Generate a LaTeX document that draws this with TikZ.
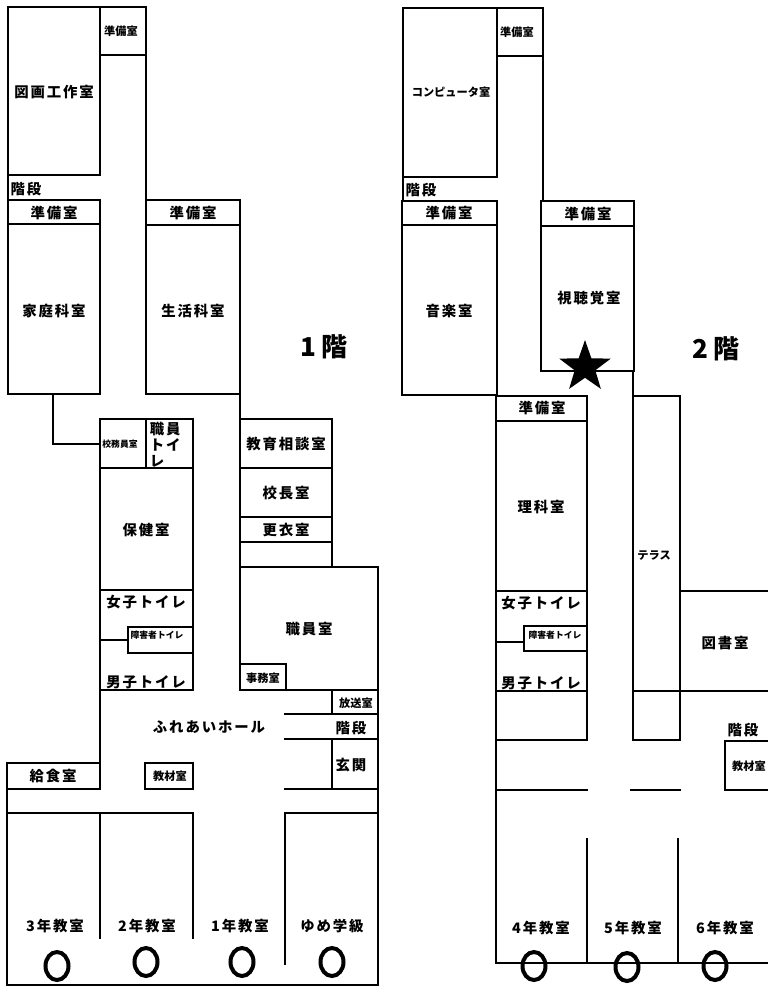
\documentclass[tikz,border=0pt]{standalone}
\usepackage{fontspec}
\usepackage{tikz}
\usetikzlibrary{shapes.geometric}
\newfontfamily\jpfont[LetterSpace=13]{Noto Sans CJK JP}
\newfontfamily\jpsmall{Noto Sans CJK JP}

\begin{document}
\begin{tikzpicture}[x=0.75pt,y=-0.75pt,line width=1.2pt,line cap=rect]
    \tikzstyle{lab}=[inner sep=0pt, text=black, font=\jpfont\bfseries\fontsize{10.8}{12}\selectfont]
    \tikzstyle{small}=[inner sep=0pt, text=black, font=\jpsmall\bfseries\fontsize{8.4}{10}\selectfont]
    \tikzstyle{tiny}=[inner sep=0pt, text=black, font=\jpsmall\bfseries\fontsize{6.6}{8}\selectfont]
    \tikzstyle{floor}=[inner sep=0pt, text=black, font=\jpsmall\bfseries\fontsize{19.5}{22}\selectfont]
    \tikzstyle{ring}=[draw, ellipse, line width=3pt, minimum width=23*0.75pt, minimum height=28*0.75pt, inner sep=0pt]

    \useasboundingbox (0,0) rectangle (767,987);

    % 1st floor, north wing
    \draw (8,7) rectangle (100,175);
    \draw (100,7) rectangle (146,55);
    \draw (146,55) -- (146,200);
    \draw (8,175) -- (8,394) -- (100,394) -- (100,200) -- (8,200);
    \draw (8,224) -- (100,224);
    \draw (146,394) -- (146,200) -- (240,200) -- (240,394) -- cycle;
    \draw (146,225) -- (240,225);
    \draw (53,394) -- (53,444) -- (100,444);

    % 1st floor, office block
    \draw (240,394) -- (240,690);
    \draw (240,419) -- (332,419) -- (332,567);
    \draw (240,468) -- (332,468);
    \draw (240,517) -- (332,517);
    \draw (240,542) -- (332,542);
    \draw (240,567) -- (378,567) -- (378,985);
    \draw (240,690) -- (378,690);
    \draw (240,664) -- (286,664) -- (286,690);
    \draw (332,690) -- (332,714);
    \draw (285,714) -- (378,714);
    \draw (285,739) -- (378,739);
    \draw (332,739) -- (332,789);
    \draw (285,789) -- (378,789);
    \draw (285,813) -- (378,813);

    % 1st floor, middle block
    \draw (100,419) rectangle (193,468);
    \draw (146,419) -- (146,468);
    \draw (100,419) -- (100,763);
    \draw (193,468) -- (193,690) -- (100,690);
    \draw (100,590) -- (193,590);
    \draw (100,640) -- (128,640);
    \draw (128,627) rectangle (193,653);

    % 1st floor, south side
    \draw (7,763) rectangle (100,789);
    \draw (145,763) rectangle (193,789);
    \draw (7,789) -- (7,985) -- (378,985);
    \draw (7,813) -- (193,813);
    \draw (100,813) -- (100,938);
    \draw (193,813) -- (193,938);
    \draw (285,813) -- (285,964);

    % 2nd floor, north wing
    \draw (403,8) rectangle (497,177);
    \draw (497,8) rectangle (543,56);
    \draw (543,56) -- (543,201);
    \draw (403,177) -- (403,201);
    \draw (402,201) rectangle (497,395);
    \draw (402,225) -- (497,225);
    \draw (541,201) rectangle (634,371);
    \draw (541,226) -- (634,226);

    % 2nd floor, middle block
    \draw (496,395) -- (496,963);
    \draw (496,396) -- (587,396) -- (587,740) -- (496,740);
    \draw (496,421) -- (587,421);
    \draw (496,591) -- (587,591);
    \draw (496,642) -- (524,642);
    \draw (524,626) rectangle (587,651);
    \draw (496,691) -- (587,691);
    \draw (496,790) -- (587,790);

    % 2nd floor, east side
    \draw (633,371) -- (633,740) -- (680,740) -- (680,396) -- (633,396);
    \draw (633,691) -- (767,691);
    \draw (680,591) -- (767,591);
    \draw (767,741) -- (725,741) -- (725,790) -- (767,790);
    \draw (631,790) -- (680,790);
    \draw (587,839) -- (587,963);
    \draw (678,839) -- (678,963);
    \draw (496,963) -- (767,963);

    % 1st floor names
    \node[small] (n_jun1) at (121,31)  {準備室};
    \node[lab]   (n_zuga) at (54,92)   {図画工作室};
    \node[lab]   (n_kai1) at (26,189)  {階段};
    \node[lab]   (n_jun2) at (54,213)  {準備室};
    \node[lab]   (n_jun3) at (193,213) {準備室};
    \node[lab]   (n_kate) at (54,311)  {家庭科室};
    \node[lab]   (n_seik) at (193,311) {生活科室};
    \node[floor] (n_one)  at (324,347) {1 階};
    \node[tiny]  (n_komu) at (120,444) {校務員室};
    \node[lab, anchor=west, align=left] (n_stoi) at (149,445) {職員\\トイ\\レ};
    \node[lab]   (n_soud) at (286,444) {教育相談室};
    \node[lab]   (n_koch) at (286,493) {校長室};
    \node[lab]   (n_koui) at (286,530) {更衣室};
    \node[lab]   (n_hoke) at (146,530) {保健室};
    \node[lab]   (n_shok) at (309,629) {職員室};
    \node[lab]   (n_joti) at (146,602) {女子トイレ};
    \node[tiny]  (n_rai1) at (157,635) {障害者トイレ};
    \node[lab]   (n_dan1) at (146,682) {男子トイレ};
    \node[small] (n_jimu) at (263,678) {事務室};
    \node[small] (n_hoso) at (356,703) {放送室};
    \node[lab]   (n_hall) at (209,727) {ふれあいホール};
    \node[lab]   (n_kai2) at (351,728) {階段};
    \node[lab]   (n_genk) at (351,765) {玄関};
    \node[lab]   (n_kyus) at (53,776)  {給食室};
    \node[small] (n_kyo1) at (170,776) {教材室};
    \node[lab]   (n_c3)   at (55,926)  {3年教室};
    \node[lab]   (n_c2)   at (147,926) {2年教室};
    \node[lab]   (n_c1)   at (240,926) {1年教室};
    \node[lab]   (n_yume) at (332,926) {ゆめ学級};

    % 2nd floor names
    \node[small] (m_jun1) at (517,32)  {準備室};
    \node[small] (m_comp) at (451,92)  {コンピュータ室};
    \node[lab]   (m_kai1) at (421,190) {階段};
    \node[lab]   (m_jun2) at (449,213) {準備室};
    \node[lab]   (m_jun3) at (588,214) {準備室};
    \node[lab]   (m_shic) at (589,298) {視聴覚室};
    \node[lab]   (m_onga) at (449,311) {音楽室};
    \node[floor] (m_two)  at (716,349) {2 階};
    \node[lab]   (m_jun4) at (542,408) {準備室};
    \node[lab]   (m_rika) at (541,507) {理科室};
    \node[small] (m_tera) at (654,556) {テラス};
    \node[lab]   (m_joti) at (541,603) {女子トイレ};
    \node[tiny]  (m_rai1) at (555,635) {障害者トイレ};
    \node[lab]   (m_tosh) at (725,643) {図書室};
    \node[lab]   (m_dan1) at (541,683) {男子トイレ};
    \node[lab]   (m_kai2) at (743,730) {階段};
    \node[small] (m_kyo1) at (749,766) {教材室};
    \node[lab]   (m_c4)   at (541,928) {4年教室};
    \node[lab]   (m_c5)   at (633,928) {5年教室};
    \node[lab]   (m_c6)   at (725,928) {6年教室};

    % marks
    \node[draw=none, fill=black, star, star points=5, star point ratio=2.5, minimum size=54*0.75pt, inner sep=0pt] (here) at (585,367) {};
    \node[ring] (o3) at (57,966)  {};
    \node[ring] (o2) at (146,962) {};
    \node[ring] (o1) at (242,962) {};
    \node[ring] (oy) at (332,962) {};
    \node[ring] (o4) at (534,966) {};
    \node[ring] (o5) at (627,967) {};
    \node[ring] (o6) at (715,966) {};
\end{tikzpicture}
\end{document}
